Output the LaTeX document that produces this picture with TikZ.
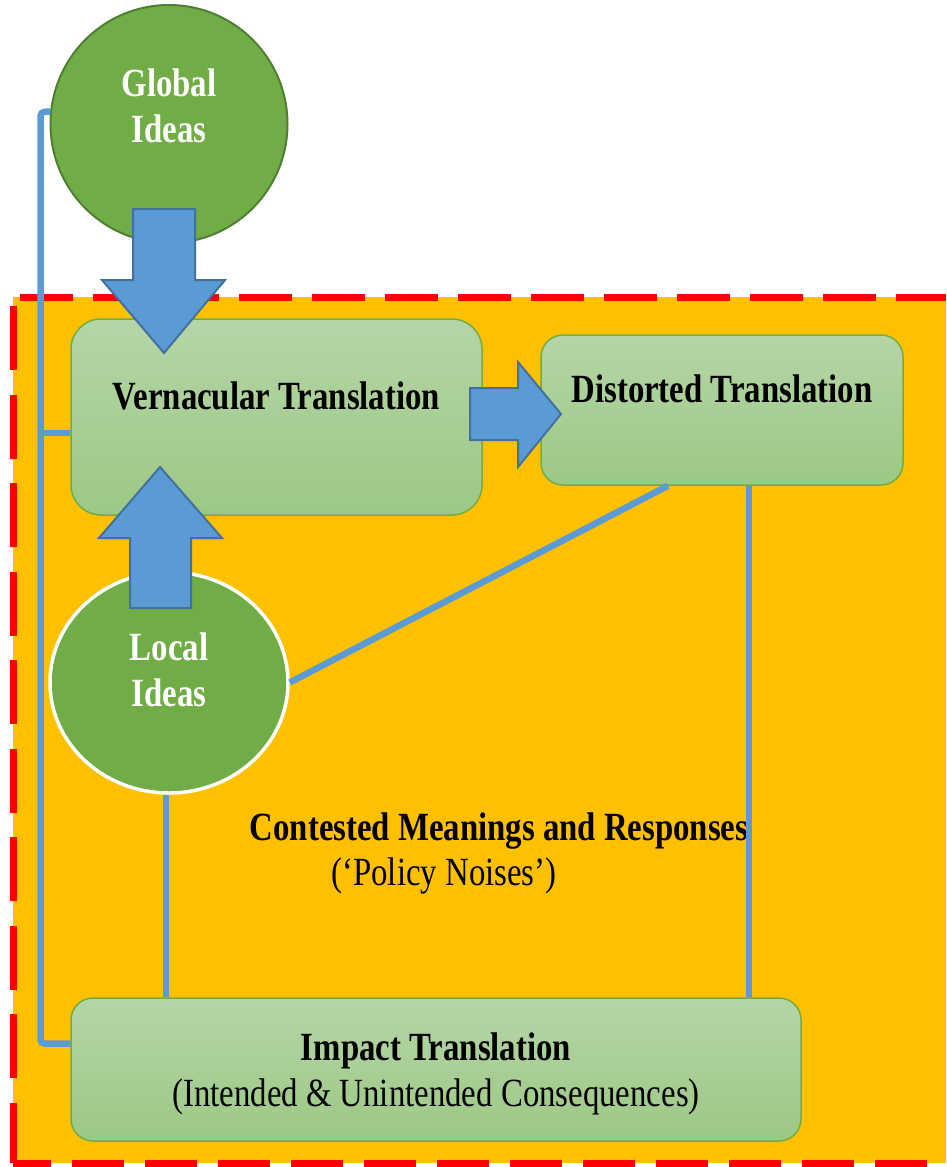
\documentclass[tikz,border=0pt]{standalone}
\usepackage{fontspec}
\setmainfont{Liberation Serif}[FakeStretch=0.82]
\usetikzlibrary{shapes.geometric}

\definecolor{bgorange}{HTML}{FFC000}
\definecolor{ideagreen}{HTML}{70AD47}
\definecolor{ideadark}{HTML}{507E32}
\definecolor{boxtop}{RGB}{181,213,167}
\definecolor{boxbot}{RGB}{157,200,132}
\definecolor{boxline}{HTML}{70AD47}
\definecolor{linkblue}{HTML}{5B9BD5}
\definecolor{arrowline}{HTML}{41719C}

\tikzset{
  bigfont/.style={font=\fontsize{40}{46}\selectfont},
  idea/.style={ellipse, fill=ideagreen, inner sep=0pt, text=white, align=center,
    font=\bfseries\fontsize{40}{46}\selectfont},
  box/.style={rectangle, top color=boxtop, bottom color=boxbot, draw=boxline,
    line width=1.5pt, inner sep=0pt, align=center},
  link/.style={draw=linkblue, line width=6.5pt},
  blockarrow/.style={fill=linkblue, draw=arrowline, line width=2pt, line join=miter},
  redline/.style={draw=red, line width=7pt}
}

\begin{document}
\begin{tikzpicture}[x=1pt,y=-1pt]
    \useasboundingbox (0,0) rectangle (946,1167);

    % frame
    \fill[bgorange] (13,297) rectangle (946,1163);
    \draw[redline, dash pattern=on 53pt off 20pt] (20,297) -- (946,297);
    \draw[redline, dash pattern=on 64pt off 24.5pt] (13,306) -- (13,1163);
    \draw[redline, dash pattern=on 52pt off 21pt, dash phase=14pt] (13,1163) -- (946,1163);

    \node[idea, draw=ideadark, line width=2pt, minimum width=237pt, minimum height=238pt, text depth=36pt] (global) at (169,124) {Global\\Ideas};
    \node[idea, draw=white, line width=3.5pt, minimum width=238pt, minimum height=221pt, text depth=26pt] (local) at (169,682.5) {Local\\Ideas};

    \node[box, rounded corners=30pt, minimum width=411pt, minimum height=196pt, text depth=42pt, font=\bfseries\fontsize{40}{46}\selectfont] (vern) at (276.5,417) {Vernacular Translation};
    \node[box, rounded corners=22pt, minimum width=362pt, minimum height=150pt, text depth=42pt, font=\bfseries\fontsize{40}{46}\selectfont] (dist) at (722,410) {Distorted Translation};
    \node[box, rounded corners=22pt, minimum width=730pt, minimum height=143pt, text depth=-3pt, bigfont] (impact) at (436,1069.5) {\textbf{Impact Translation}\\(Intended \& Unintended Consequences)};

    \node[bigfont, anchor=base, inner sep=0pt] (contested) at (499,840) {\textbf{Contested Meanings and Responses}};
    \node[bigfont, anchor=base, inner sep=0pt] (noises) at (444,885) {(‘Policy Noises’)};

    % connectors
    \coordinate (rail) at (40.5,112);
    \draw[link, rounded corners=4pt] (global.174) -- (rail) |- ([yshift=26pt]impact.west);
    \draw[link] ([yshift=-16pt]vern.west) -- ([yshift=-16pt]vern.west -| rail);
    \draw[link] ([xshift=-3pt]local.south) -- ([xshift=-3pt]local.south |- impact.north);
    \draw[link] ([xshift=27pt]dist.south) -- ([xshift=27pt]dist.south |- impact.north);
    \draw[link] (local.east) -- ([xshift=-54pt]dist.south);

    % block arrows
    \draw[blockarrow] (133,209) -- (195,209) -- (195,280) -- (225,280) -- (164,353) -- (102,280) -- (133,280) -- cycle;
    \draw[blockarrow] (130,608) -- (191,608) -- (191,538) -- (222,538) -- (160,467) -- (99,538) -- (130,538) -- cycle;
    \draw[blockarrow] (470,388) -- (518,388) -- (518,362) -- (561,414) -- (518,467) -- (518,440) -- (470,440) -- cycle;

\end{tikzpicture}
\end{document}
